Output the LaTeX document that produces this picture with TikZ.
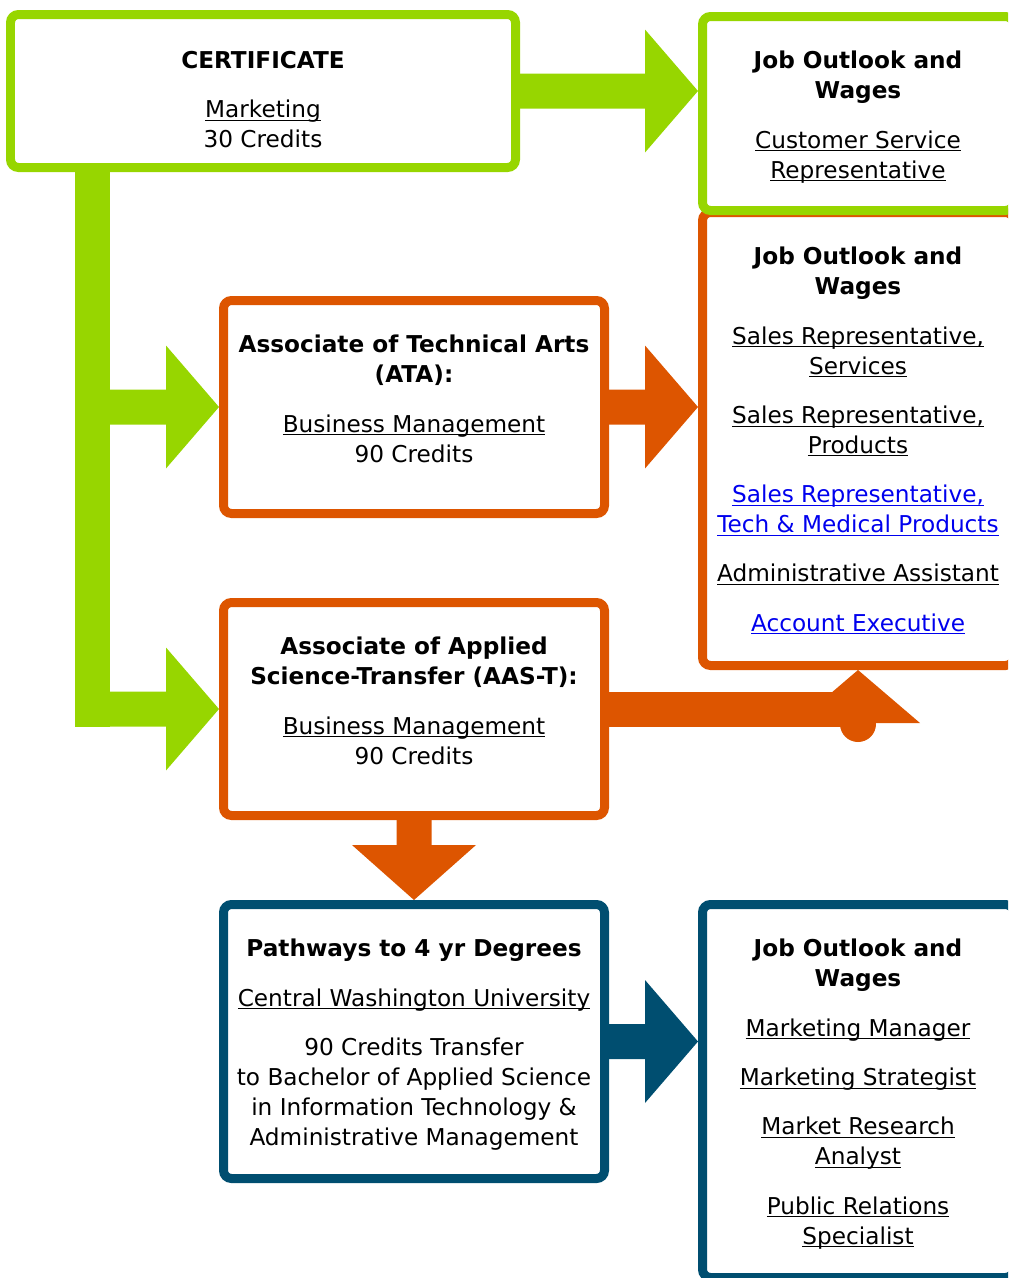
\documentclass[tikz,border=0pt]{standalone}
\usepackage{fontspec}
\setmainfont{DejaVu Sans}
\usetikzlibrary{positioning,calc,backgrounds}
\definecolor{certgreen}{RGB}{151,214,0}
\definecolor{degorange}{RGB}{221,85,0}
\definecolor{pathblue}{RGB}{0,78,112}
\definecolor{linkblue}{RGB}{0,0,238}
\newcommand{\lnk}[1]{\underline{\raisebox{0pt}[\height][0pt]{#1}}}
\newcommand{\blnk}[1]{{\color{linkblue}\lnk{#1}}}
\newcommand{\gap}{\\[11.1pt]}
% block arrow: colour, start, tip
\newcommand{\harrow}[3]{\fill[#1] ($(#2)+(0,-17.5)$) -- ($(#3)+(-53,-17.5)$) -- ($(#3)+(-53,-61.5)$) -- (#3) -- ($(#3)+(-53,61.5)$) -- ($(#3)+(-53,17.5)$) -- ($(#2)+(0,17.5)$) -- cycle}

\begin{document}
\begin{tikzpicture}[
x=0.02cm, y=-0.02cm,
roundbox/.style={draw=#1, line width=0.18cm, rounded corners=0.16cm, fill=white, inner sep=0pt},
boxsize/.style 2 args={minimum width=#1*0.02cm, minimum height=#2*0.02cm},
boxtext/.style={align=center, inner sep=0pt, font=\fontsize{13.2}{17}\selectfont}
]
\useasboundingbox (0,0) rectangle (1008,1278);
\clip (0,0) rectangle (1008,1278);

% boxes
\node[roundbox=certgreen, boxsize={505}{153}] (cert) at (263,91) {};
\node[roundbox=degorange, boxsize={311}{453}] (jobO) at (858,439) {};
\node[roundbox=certgreen, boxsize={311}{194}] (jobG) at (858,113.5) {};
\node[roundbox=degorange, boxsize={381}{213}] (ata) at (414,407) {};
\node[roundbox=degorange, boxsize={381}{213}] (aas) at (414,709) {};
\node[roundbox=pathblue, boxsize={381}{274}] (pathway) at (414,1041.5) {};
\node[roundbox=pathblue, boxsize={311}{373}] (jobB) at (858,1091) {};

% texts
\node[boxtext, below=0.82cm of cert.north] (certtxt)
  {\textbf{CERTIFICATE}\gap \lnk{Marketing}\\30 Credits};
\node[boxtext, below=0.78cm of jobG.north] (jobGtxt)
  {\textbf{Job Outlook and}\\\textbf{Wages}\gap
   \lnk{Customer Service}\\\lnk{Representative}};
\node[boxtext, below=0.78cm of jobO.north] (jobOtxt)
  {\textbf{Job Outlook and}\\\textbf{Wages}\gap
   \lnk{Sales Representative,}\\\lnk{Services}\gap
   \lnk{Sales Representative,}\\\lnk{Products}\gap
   \blnk{Sales Representative,}\\\blnk{Tech \& Medical Products}\gap
   \lnk{Administrative Assistant}\gap
   \blnk{Account Executive}};
\node[boxtext, below=0.78cm of ata.north] (atatxt)
  {\textbf{Associate of Technical Arts}\\\textbf{(ATA):}\gap
   \lnk{Business Management}\\90 Credits};
\node[boxtext, below=0.78cm of aas.north] (aastxt)
  {\textbf{Associate of Applied}\\\textbf{Science-Transfer (AAS-T):}\gap
   \lnk{Business Management}\\90 Credits};
\node[boxtext, below=0.78cm of pathway.north] (pathtxt)
  {\textbf{Pathways to 4 yr Degrees}\gap
   \lnk{Central Washington University}\gap
   90 Credits Transfer\\to Bachelor of Applied Science\\in Information Technology \&\\Administrative Management};
\node[boxtext, below=0.78cm of jobB.north] (jobBtxt)
  {\textbf{Job Outlook and}\\\textbf{Wages}\gap
   \lnk{Marketing Manager}\gap
   \lnk{Marketing Strategist}\gap
   \lnk{Market Research}\\\lnk{Analyst}\gap
   \lnk{Public Relations}\\\lnk{Specialist}};

% arrow points
\coordinate (tipG) at (jobG.west |- cert.east);
\coordinate (tipO) at (jobO.west |- ata.east);
\coordinate (tipB) at (jobB.west |- pathway.east);
\coordinate (trunk) at (92.5,165);
\coordinate (trunkA) at (trunk |- ata.west);
\coordinate (trunkS) at (trunk |- aas.west);
\coordinate (bend) at (jobO.south |- aas.east);

\begin{scope}[on background layer]
\harrow{certgreen}{cert.east}{tipG};
\fill[certgreen] ($(trunk)+(-17.5,0)$) rectangle ($(trunkS)+(17.5,17.5)$);
\harrow{certgreen}{trunkA}{ata.west};
\harrow{certgreen}{trunkS}{aas.west};
\harrow{degorange}{ata.east}{tipO};
\harrow{pathblue}{pathway.east}{tipB};

\fill[degorange] ($(aas.east)+(-5,-17.5)$) rectangle ($(bend)+(0,17.5)$);
\fill[degorange] ($(bend)+(-62,14)$) -- (jobO.south) -- ($(bend)+(62,14)$) -- cycle;
\fill[degorange] ($(bend)+(0,15)$) circle[radius=0.36cm];

\fill[degorange] ($(aas.south)+(-17.5,-5)$) -- ($(pathway.north)+(-17.5,-55)$)
  -- ($(pathway.north)+(-62,-55)$) -- (pathway.north) -- ($(pathway.north)+(62,-55)$)
  -- ($(pathway.north)+(17.5,-55)$) -- ($(aas.south)+(17.5,-5)$) -- cycle;
\end{scope}

\end{tikzpicture}
\end{document}
